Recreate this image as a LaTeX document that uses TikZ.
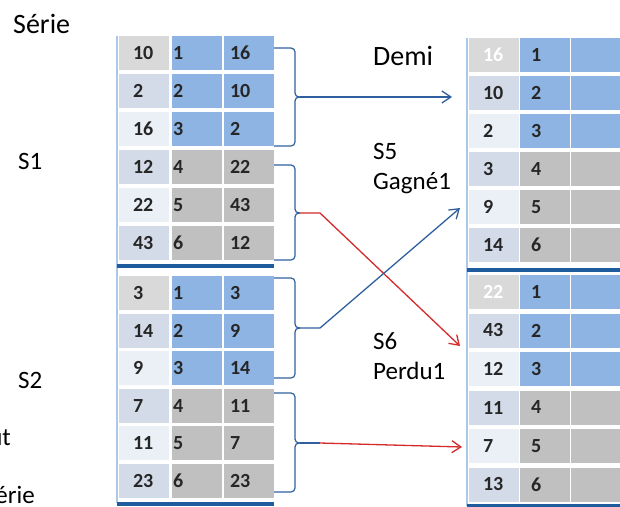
\documentclass[tikz,border=0pt]{standalone}
\usepackage{fontspec}
\setmainfont{Carlito}
\usetikzlibrary{arrows.meta}

\definecolor{cellblue}{HTML}{8DB4E2}
\definecolor{cellgray}{HTML}{C0C0C0}
\definecolor{keygray}{HTML}{D9D9D9}
\definecolor{keyblue}{HTML}{D3DBE9}
\definecolor{keypale}{HTML}{EBEFF6}
\definecolor{rulecol}{HTML}{1F5C9E}
\definecolor{edgecol}{HTML}{A9C8EA}
\definecolor{linkblue}{HTML}{2F5F9F}
\definecolor{linkred}{HTML}{D42A2A}

\tikzset{
  cell/.style={rectangle, minimum height=34pt, inner ysep=0pt, align=left,
    font=\fontsize{20}{20}\selectfont\bfseries, text=black!85},
  colA/.style={cell, inner xsep=14pt, text width=22pt},
  colB/.style={cell, inner xsep=1pt, text width=48pt},
  colC/.style={cell, inner xsep=6pt, text width=38pt},
  colD/.style={cell, inner xsep=11pt, text width=28pt},
  tag/.style={inner sep=0pt, align=left, font=\fontsize{25}{30}\selectfont},
  bigtag/.style={tag, font=\fontsize{28}{30}\selectfont},
  brace/.style={linkblue, line width=1.2pt, rounded corners=4pt},
  link/.style={line width=1.3pt, -{Straight Barb[length=9pt,width=12pt]}},
}

\begin{document}
\begin{tikzpicture}[x=1pt, y=-1pt]
\useasboundingbox (0,0) rectangle (620,506);

% left table: series S1 then S2
\foreach \a/\b/\c/\k [count=\i] in {10/1/16/keygray, 2/2/10/keyblue, 16/3/2/keypale,
    12/4/22/keyblue, 22/5/43/keypale, 43/6/12/keyblue} {
  \ifnum\i<4 \def\band{cellblue}\else\def\band{cellgray}\fi
  \node[colA, fill=\k] (s1-\i-a) at (144, 15+38*\i) {\a};
  \node[colB, fill=\band] (s1-\i-b) at (197, 15+38*\i) {\b};
  \node[colC, fill=\band] (s1-\i-c) at (249, 15+38*\i) {\c};
}
\foreach \a/\b/\c/\k [count=\i] in {3/1/3/keygray, 14/2/9/keyblue, 9/3/14/keypale,
    7/4/11/keyblue, 11/5/7/keypale, 23/6/23/keyblue} {
  \ifnum\i<4 \def\band{cellblue}\else\def\band{cellgray}\fi
  \node[colA, fill=\k] (s2-\i-a) at (144, 255.4+37.6*\i) {\a};
  \node[colB, fill=\band] (s2-\i-b) at (197, 255.4+37.6*\i) {\b};
  \node[colC, fill=\band] (s2-\i-c) at (249, 255.4+37.6*\i) {\c};
}
\draw[edgecol, line width=1.5pt] (117,36) -- (117,503);
\draw[rulecol, line width=4pt] (117,266) -- (274,266);
\draw[rulecol, line width=4pt] (117,504) -- (274,504);

% right table: S5 then S6
\foreach \a/\b/\k [count=\i] in {16/1/keygray, 10/2/keyblue, 2/3/keypale,
    3/4/keyblue, 9/5/keypale, 14/6/keyblue} {
  \ifnum\i<4 \def\band{cellblue}\else\def\band{cellgray}\fi
  \ifnum\i=1 \def\ink{white}\else\def\ink{black!85}\fi
  \node[colA, fill=\k, text=\ink] (d-\i-a) at (494, 17+38*\i) {\a};
  \node[colD, fill=\band] (d-\i-b) at (545, 17+38*\i) {\b};
  \node[colC, fill=\band] (d-\i-c) at (596, 17+38*\i) {};
}
\foreach \a/\b/\k [count=\i] in {22/1/keygray, 43/2/keyblue, 12/3/keypale,
    11/4/keyblue, 7/5/keypale, 13/6/keyblue} {
  \ifnum\i<4 \def\band{cellblue}\else\def\band{cellgray}\fi
  \ifnum\i=1 \def\ink{white}\else\def\ink{black!85}\fi
  \node[colA, fill=\k, text=\ink] (e-\i-a) at (494, 253.5+38.5*\i) {\a};
  \node[colD, fill=\band] (e-\i-b) at (545, 253.5+38.5*\i) {\b};
  \node[colC, fill=\band] (e-\i-c) at (596, 253.5+38.5*\i) {};
}
\draw[edgecol, line width=1.5pt] (467,38) -- (467,506);
\draw[rulecol, line width=4pt] (467,270) -- (620,270);
\draw[rulecol, line width=4pt] (467,506) -- (620,506);

% braces
\foreach \t/\m/\b [count=\k] in {48/97/146, 165/213/260, 278/328/378, 393/443/492} {
  \draw[brace] (274,\t) -- (295,\t) -- (295,\m) -- (300,\m);
  \draw[brace] (274,\b) -- (295,\b) -- (295,\m) -- (300,\m);
  \coordinate (tip\k) at (300,\m);
  \coordinate (knee\k) at (320,\m);
}
\coordinate (end1) at (452,97);
\coordinate (end2) at (460,346);
\coordinate (end3) at (460,208);
\coordinate (end4) at (462,447);

% links
\draw[link, linkblue] (tip1) -- (end1);
\draw[link, linkred] (tip2) -- (knee2) -- (end2);
\draw[link, linkblue] (tip3) -- (knee3) -- (end3);
\draw[linkblue, line width=1.3pt] (tip4) -- (knee4);
\draw[link, linkred] (knee4) -- (end4);

% labels
\node[bigtag, anchor=west] (serie) at (13,24) {Série};
\node[tag, anchor=west] (lbl-s1) at (18,161) {S1};
\node[tag, anchor=west] (lbl-s2) at (18,380) {S2};
\node[tag, anchor=east] (cut-a) at (11,438) {ut};
\node[tag, anchor=east] (cut-b) at (35,495) {érie};
\node[bigtag, anchor=west] (demi) at (373,56) {Demi};
\node[tag, anchor=north west] (lbl-s5) at (373,143) {S5\\Gagné1};
\node[tag, anchor=north west] (lbl-s6) at (373,332) {S6\\Perdu1};
\end{tikzpicture}
\end{document}
